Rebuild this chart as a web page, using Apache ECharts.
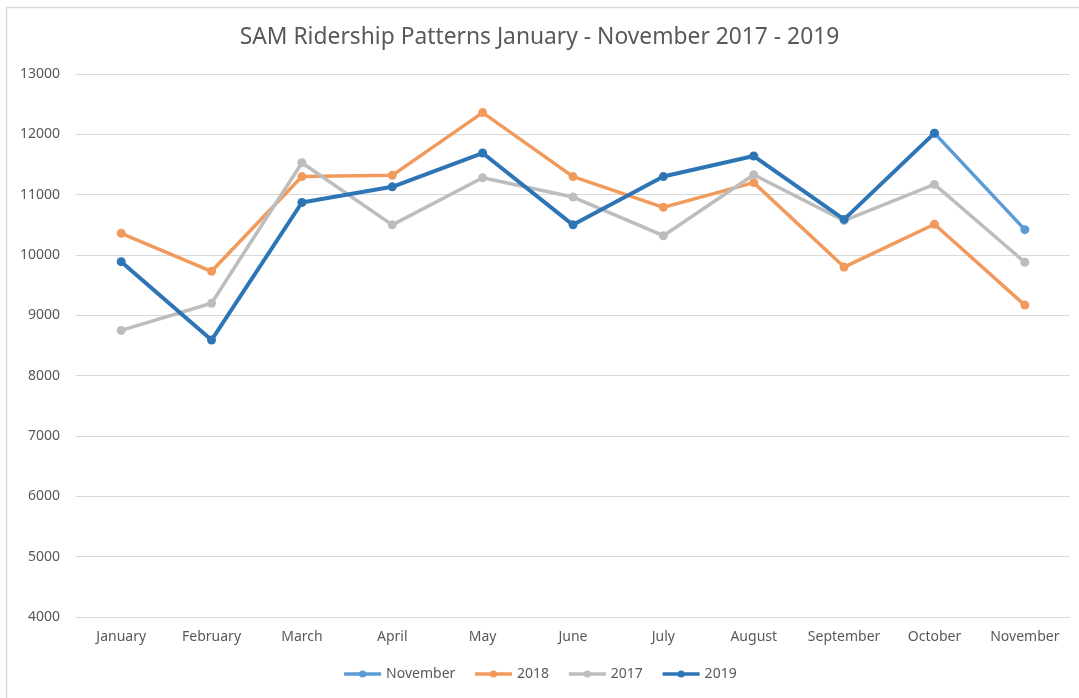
<!DOCTYPE html>
<html>
<head>
<meta charset="utf-8">
<script src="https://cdn.jsdelivr.net/npm/echarts@6/dist/echarts.min.js"></script>
<style>
  html, body { margin: 0; padding: 0; background: #fff; }
  #chart { width: 1079px; height: 698px; }
</style>
</head>
<body>
<div id="chart"></div>
<script>
var months = ['January', 'February', 'March', 'April', 'May', 'June', 'July',
  'August', 'September', 'October', 'November'];

// light blue segment: 2019 October -> November
var novData = [null, null, null, null, null, null, null, null, null, 12020, 10420];
var data2018 = [10360, 9730, 11300, 11320, 12360, 11300, 10790, 11200, 9800, 10510, 9170];
var data2017 = [8750, 9200, 11530, 10500, 11280, 10960, 10320, 11330, 10570, 11170, 9880];
var data2019 = [9890, 8590, 10870, 11130, 11690, 10500, 11300, 11640, 10590, 12020, null];

var fontName = 'Noto Sans';
var textGray = '#595959';

function lineSeries(name, data, color, width) {
  return {
    name: name,
    type: 'line',
    data: data,
    symbol: 'circle',
    symbolSize: 9,
    showAllSymbol: true,
    connectNulls: false,
    itemStyle: { color: color },
    lineStyle: { color: color, width: width },
    emphasis: { disabled: true }
  };
}

var chart = echarts.init(document.getElementById('chart'), null, {renderer: 'canvas'});
var option = {
  animation: false,
  backgroundColor: '#fff',
  title: {
    text: 'SAM Ridership Patterns January - November 2017 - 2019',
    left: 'center',
    top: 21,
    textStyle: { fontFamily: fontName, fontSize: 22.8, fontWeight: 'normal', color: textGray }
  },
  graphic: [{
    type: 'rect',
    shape: { x: 6.5, y: 7.5, width: 1100, height: 720 },
    style: { fill: null, stroke: '#d9d9d9', lineWidth: 1.5 },
    silent: true
  }],
  legend: {
    bottom: 12,
    left: 'center',
    itemWidth: 37,
    itemHeight: 9,
    itemGap: 18,
    lineStyle: { width: 3.5 },
    textStyle: { fontFamily: fontName, fontSize: 14, color: textGray },
    data: ['November', '2018', '2017', '2019']
  },
  grid: { left: 76, right: 9, top: 74, bottom: 81 },
  xAxis: {
    type: 'category',
    data: months,
    boundaryGap: true,
    axisLine: { show: false },
    axisTick: { show: false },
    axisLabel: { fontFamily: fontName, fontSize: 14, color: textGray, margin: 13, interval: 0 }
  },
  yAxis: {
    type: 'value',
    min: 4000,
    max: 13000,
    interval: 1000,
    axisLine: { show: false },
    axisTick: { show: false },
    axisLabel: {
      fontFamily: fontName, fontSize: 14, color: textGray, margin: 16,
      formatter: function(v) { return String(v); }
    },
    splitLine: { lineStyle: { color: '#d9d9d9', width: 1 } }
  },
  series: [
    lineSeries('November', novData, '#5b9bd5', 3.5),
    lineSeries('2018', data2018, '#f19a5c', 3.5),
    lineSeries('2017', data2017, '#bdbdbd', 3.5),
    lineSeries('2019', data2019, '#2e75b6', 4)
  ]
};
chart.setOption(option);
</script>
</body>
</html>
